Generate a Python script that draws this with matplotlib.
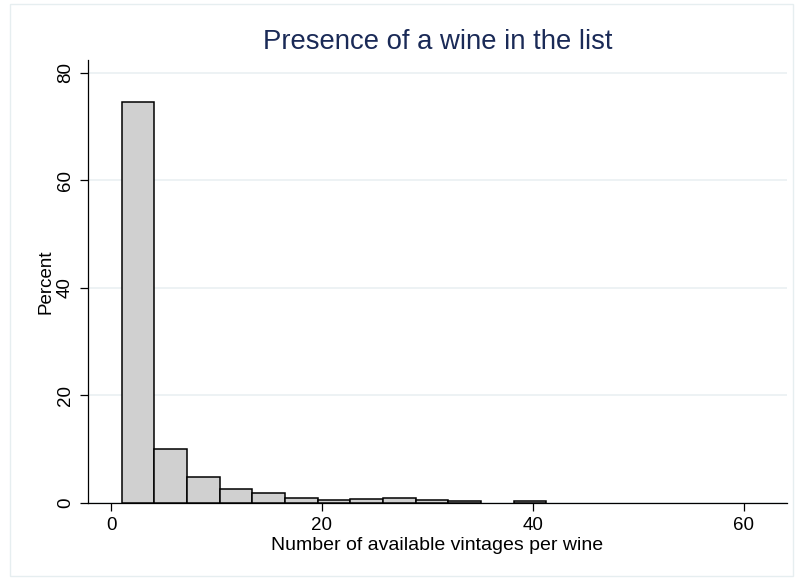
import matplotlib.pyplot as plt
from matplotlib.patches import Rectangle

plt.rcParams['font.family'] = ['Liberation Sans', 'DejaVu Sans']

# histogram bins: start at 1, width 3.1
bin_start = 1.0
bin_width = 3.1
percent = [74.6, 10.0, 4.8, 2.55, 1.8, 1.0, 0.55, 0.75, 0.85, 0.5, 0.45, 0.0, 0.4]

fig = plt.figure(figsize=(7.95, 5.79), dpi=100)
ax = fig.add_axes([0.1107, 0.1313, 0.879, 0.765])

lefts = [bin_start + i * bin_width for i in range(len(percent))]
for x, h in zip(lefts, percent):
    if h > 0:
        ax.bar(x, h, width=bin_width, align='edge', color='#d0d0d0',
               edgecolor='black', linewidth=1.1, zorder=3)

ax.set_xlim(-2.2, 64.1)
ax.set_ylim(0, 82.4)
ax.set_xticks([0, 20, 40, 60])
ax.set_yticks([0, 20, 40, 60, 80])
ax.grid(axis='y', color='#eaf0f2', linewidth=1.2, zorder=0)
ax.set_axisbelow(True)

for s in ['top', 'right']:
    ax.spines[s].set_visible(False)
for s in ['left', 'bottom']:
    ax.spines[s].set_linewidth(0.9)

ax.tick_params(axis='both', direction='out', length=6, width=0.9, labelsize=13.5, pad=4)
for lbl in ax.get_yticklabels():
    lbl.set_rotation(90)
    lbl.set_va('center')

ax.set_ylabel('Percent', fontsize=13.5, labelpad=2)
ax.set_xlabel('Number of available vintages per wine', fontsize=14, labelpad=2)
ax.set_title('Presence of a wine in the list', fontsize=19.8, color='#1a2a57', pad=8)

# light frame round the whole graph
fig.patches.append(Rectangle((0.012, 0.005), 0.985, 0.988, transform=fig.transFigure,
                             fill=False, edgecolor='#e6eef0', linewidth=1))

fig.savefig('out.png', dpi=100)
